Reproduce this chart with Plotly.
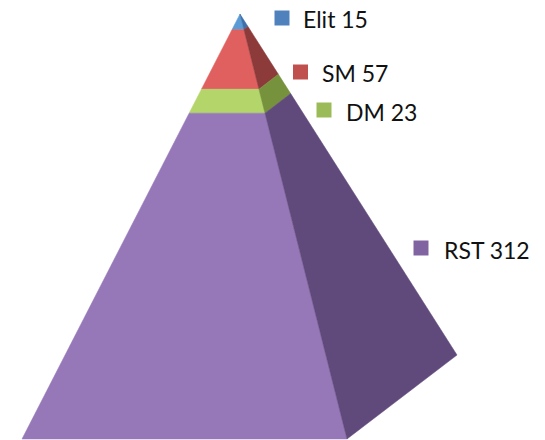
import plotly.graph_objects as go

names = ["Elit", "SM", "DM", "RST"]
values = [15, 57, 23, 312]
front_colors = ["#5B9BD5", "#E06060", "#B3D56A", "#9678B9"]
side_colors = ["#3F6FA8", "#8C3B3A", "#76923C", "#604A7B"]
legend_colors = ["#4F81BD", "#C0504D", "#9BBB59", "#8064A2"]

# pyramid geometry in pixel-like axis units
APEX = (240, 14)
LEFT = (22, 439)
FRONT = (347, 439)
RIGHT = (457, 355)
# legend layout
LEG_X = [282, 300.5, 324, 421]
LEG_Y = [18, 72, 110, 248]
TXT_X = [301, 320, 344, 442]
TXT_Y = [19, 73, 112, 250]


def at(corner, t):
    return (APEX[0] + t * (corner[0] - APEX[0]), APEX[1] + t * (corner[1] - APEX[1]))


fig = go.Figure()
total = sum(values)
cum = 0
for i, v in enumerate(values):
    t0, t1 = cum / total, (cum + v) / total
    cum += v
    for corners, col in (((LEFT, FRONT), front_colors[i]), ((FRONT, RIGHT), side_colors[i])):
        a, b = corners
        pts = [at(a, t0), at(b, t0), at(b, t1), at(a, t1), at(a, t0)]
        fig.add_trace(go.Scatter(
            x=[p[0] for p in pts], y=[p[1] for p in pts],
            mode="lines", fill="toself", fillcolor=col,
            line=dict(color=col, width=0.5), hoverinfo="skip", showlegend=False,
        ))

fig.add_trace(go.Scatter(
    x=LEG_X, y=LEG_Y, mode="markers",
    marker=dict(symbol="square", size=15, color=legend_colors, line=dict(width=0)),
    hoverinfo="skip", showlegend=False,
))

for i, (n, v) in enumerate(zip(names, values)):
    fig.add_annotation(
        x=TXT_X[i], y=TXT_Y[i], text=f"{n} {v}", showarrow=False,
        xanchor="left", yanchor="middle",
        font=dict(family="Lato", size=23, color="#111111"),
    )

fig.update_layout(
    width=545, height=440, autosize=False,
    margin=dict(l=0, r=0, t=0, b=0),
    paper_bgcolor="white", plot_bgcolor="white",
    xaxis=dict(range=[0, 545], visible=False, fixedrange=True),
    yaxis=dict(range=[440, 0], visible=False, fixedrange=True),
)
fig.write_html(
    "out.html",
    config={"displayModeBar": False},
    post_script="document.body.style.margin='0';",
)
